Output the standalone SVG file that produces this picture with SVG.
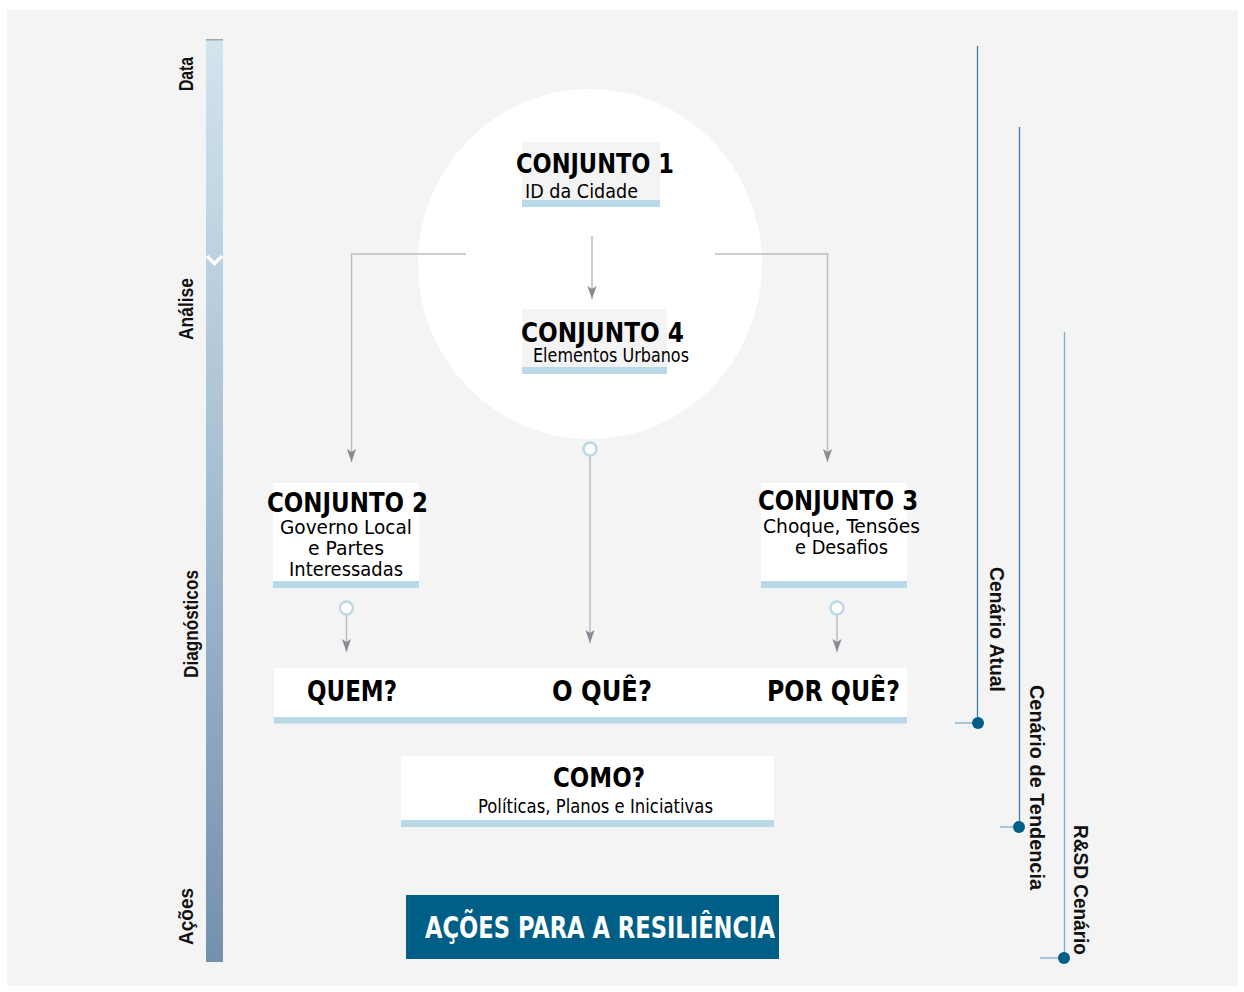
<svg xmlns="http://www.w3.org/2000/svg" width="1244" height="992" viewBox="0 0 1244 992">
<defs>
<linearGradient id="barGrad" x1="0" y1="0" x2="0" y2="1">
<stop offset="0" stop-color="#d2e4ee"/>
<stop offset="0.5" stop-color="#a5bdd2"/>
<stop offset="1" stop-color="#7590ae"/>
</linearGradient>
<marker id="arrD" markerWidth="13" markerHeight="18" viewBox="0 0 17 12" refX="17" refY="6" orient="auto" markerUnits="userSpaceOnUse">
<path d="M0,0 L4,6 L0,12 L17,6 Z" fill="#8a8b92"/>
</marker>
</defs>
<style>
.main{font-family:"DejaVu Sans Condensed","DejaVu Sans",sans-serif;font-stretch:condensed;fill:#000}
.b{font-weight:bold}
.side{font-family:"Liberation Sans",Arial,sans-serif;font-weight:bold;fill:#111}
.box{fill:#ffffff}
.gbox{fill:#f4f4f4}
.bar{fill:#b9d8e8}
.conn{fill:none;stroke:#bdbdbd;stroke-width:1.5}
.ring{fill:#ffffff;stroke:#bcd9e8;stroke-width:2.5}
.dot{fill:#005f87}
</style>
<rect x="7" y="10" width="1231" height="976" fill="#f4f4f4"/>

<g id="timeline">
<rect x="206" y="39" width="17" height="923" fill="url(#barGrad)"/>
<rect x="206" y="39" width="17" height="1.5" fill="#9fa7ad"/>
<path d="M207,256 L214.5,263.5 L222,256" fill="none" stroke="#ffffff" stroke-width="3.5"/>
<text class="side" font-size="21" transform="translate(193,91) rotate(-90)" textLength="34" lengthAdjust="spacingAndGlyphs">Data</text>
<text class="side" font-size="21" transform="translate(193,340) rotate(-90)" textLength="62" lengthAdjust="spacingAndGlyphs">Análise</text>
<text class="side" font-size="21" transform="translate(198,678) rotate(-90)" textLength="108" lengthAdjust="spacingAndGlyphs">Diagnósticos</text>
<text class="side" font-size="21" transform="translate(193,945) rotate(-90)" textLength="57" lengthAdjust="spacingAndGlyphs">Ações</text>
</g>

<g id="circle-bg">
<ellipse cx="590" cy="264" rx="172" ry="175" fill="#ffffff"/>
</g>

<g id="connectors">
<line class="conn" x1="592" y1="236" x2="592" y2="299" marker-end="url(#arrD)"/>
<polyline class="conn" points="466,254 351.5,254 351.5,462" marker-end="url(#arrD)"/>
<polyline class="conn" points="715,254 827.5,254 827.5,462" marker-end="url(#arrD)"/>
<line class="conn" x1="590" y1="456" x2="590" y2="643" stroke="#c8c8c8" marker-end="url(#arrD)"/>
<line class="conn" x1="346.5" y1="615" x2="346.5" y2="652" stroke="#c8c8c8" marker-end="url(#arrD)"/>
<line class="conn" x1="837" y1="615" x2="837" y2="652" stroke="#c8c8c8" marker-end="url(#arrD)"/>
<circle class="ring" cx="590" cy="449" r="6.5"/>
<circle class="ring" cx="346.5" cy="608" r="6.5"/>
<circle class="ring" cx="837" cy="608" r="6.5"/>
</g>

<g id="conjunto1">
<rect class="gbox" x="522" y="142" width="138" height="60"/>
<rect class="bar" x="522" y="200" width="138" height="7"/>
<text class="main b" x="516" y="173" font-size="27" textLength="158" lengthAdjust="spacingAndGlyphs">CONJUNTO 1</text>
<text class="main" x="525" y="198" font-size="20" textLength="113" lengthAdjust="spacingAndGlyphs">ID da Cidade</text>
</g>

<g id="conjunto4">
<rect class="gbox" x="522" y="309" width="145" height="60"/>
<rect class="bar" x="522" y="367" width="145" height="7"/>
<text class="main b" x="521" y="342" font-size="27" textLength="163" lengthAdjust="spacingAndGlyphs">CONJUNTO 4</text>
<text class="main" x="533" y="362" font-size="19" textLength="156" lengthAdjust="spacingAndGlyphs">Elementos Urbanos</text>
</g>

<g id="conjunto2">
<rect class="box" x="273" y="483" width="146" height="100"/>
<rect class="bar" x="273" y="581" width="146" height="7"/>
<text class="main b" x="267" y="512" font-size="27" textLength="161" lengthAdjust="spacingAndGlyphs">CONJUNTO 2</text>
<text class="main" x="280" y="534" font-size="19" textLength="132" lengthAdjust="spacingAndGlyphs">Governo Local</text>
<text class="main" x="308" y="555" font-size="19" textLength="76" lengthAdjust="spacingAndGlyphs">e Partes</text>
<text class="main" x="289" y="576" font-size="19" textLength="114" lengthAdjust="spacingAndGlyphs">Interessadas</text>
</g>

<g id="conjunto3">
<rect class="box" x="761" y="483" width="146" height="100"/>
<rect class="bar" x="761" y="581" width="146" height="7"/>
<text class="main b" x="758" y="510" font-size="27" textLength="160" lengthAdjust="spacingAndGlyphs">CONJUNTO 3</text>
<text class="main" x="763" y="533" font-size="19" textLength="157" lengthAdjust="spacingAndGlyphs">Choque, Tensões</text>
<text class="main" x="795" y="554" font-size="19" textLength="93" lengthAdjust="spacingAndGlyphs">e Desafios</text>
</g>

<g id="perguntas">
<rect class="box" x="274" y="668" width="633" height="50"/>
<rect class="bar" x="274" y="717" width="633" height="6.5"/>
<text class="main b" x="307" y="701" font-size="28" textLength="90" lengthAdjust="spacingAndGlyphs">QUEM?</text>
<text class="main b" x="552" y="701" font-size="28" textLength="100" lengthAdjust="spacingAndGlyphs">O QUÊ?</text>
<text class="main b" x="767" y="701" font-size="28" textLength="133" lengthAdjust="spacingAndGlyphs">POR QUÊ?</text>
</g>

<g id="como">
<rect class="box" x="401" y="756" width="373" height="65"/>
<rect class="bar" x="401" y="820" width="373" height="7"/>
<text class="main b" x="553" y="787" font-size="27" textLength="92" lengthAdjust="spacingAndGlyphs">COMO?</text>
<text class="main" x="478" y="813" font-size="19" textLength="235" lengthAdjust="spacingAndGlyphs">Políticas, Planos e Iniciativas</text>
</g>

<g id="acoes">
<rect x="406" y="895" width="373" height="64" fill="#005f87"/>
<text class="main b" x="425" y="938" font-size="30" style="fill:#ffffff" textLength="350" lengthAdjust="spacingAndGlyphs">AÇÕES PARA A RESILIÊNCIA</text>
</g>

<g id="cenario-atual">
<line x1="977.5" y1="46" x2="977.5" y2="723" stroke="#3f7fa5" stroke-width="1.3"/>
<line x1="955" y1="723" x2="978" y2="723" stroke="#7ab0cd" stroke-width="1.3"/>
<circle class="dot" cx="978" cy="723" r="6"/>
<text class="side" font-size="20" transform="translate(990,567) rotate(90)" textLength="125" lengthAdjust="spacingAndGlyphs">Cenário Atual</text>
</g>

<g id="cenario-tendencia">
<line x1="1019.5" y1="127" x2="1019.5" y2="826" stroke="#3f7fa5" stroke-width="1.3"/>
<line x1="1000" y1="827" x2="1019" y2="827" stroke="#7ab0cd" stroke-width="1.3"/>
<circle class="dot" cx="1019" cy="827" r="6"/>
<text class="side" font-size="20" transform="translate(1030,685) rotate(90)" textLength="205" lengthAdjust="spacingAndGlyphs">Cenário de Tendencia</text>
</g>

<g id="rsd-cenario">
<line x1="1064.5" y1="332" x2="1064.5" y2="957" stroke="#7ab0cd" stroke-width="1.3"/>
<line x1="1040" y1="958" x2="1064" y2="958" stroke="#7ab0cd" stroke-width="1.3"/>
<circle class="dot" cx="1064" cy="958" r="6"/>
<text class="side" font-size="20" transform="translate(1074,825) rotate(90)" textLength="130" lengthAdjust="spacingAndGlyphs">R&amp;SD Cenário</text>
</g>
</svg>
